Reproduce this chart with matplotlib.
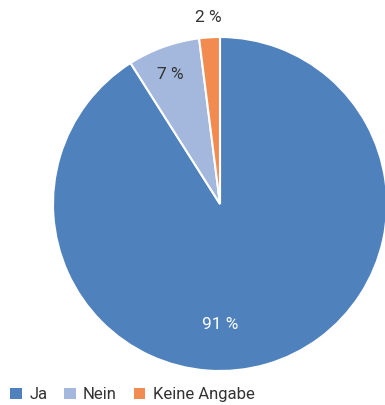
import matplotlib
matplotlib.use("Agg")
import matplotlib.pyplot as plt
import numpy as np
from matplotlib.patches import Patch

plt.rcParams['font.family'] = ['Roboto', 'DejaVu Sans']

categories = ["Ja", "Nein", "Keine Angabe"]
shares = [91, 7, 2]
colors = ["#4F81BD", "#A3B8DC", "#F28B50"]

# label placement: (angle in degrees, radius as fraction of pie radius)
label_pos = [(-90, 0.72), (111, 0.83), (93.7, 1.12)]
label_colors = ["white", "#333333", "#333333"]

fig = plt.figure(figsize=(3.85, 4.05), dpi=100)
cx, cy, r = 220, 204, 167
ax = fig.add_axes([(cx - r) / 385, (405 - cy - r) / 405, 2 * r / 385, 2 * r / 405])

wedges, _ = ax.pie(shares, colors=colors, startangle=90, counterclock=False,
                   radius=1, wedgeprops=dict(edgecolor="white", linewidth=1.5))
ax.set_xlim(-1, 1)
ax.set_ylim(-1, 1)
ax.set_aspect("equal")
ax.axis("off")
for w in wedges:
    w.set_clip_on(False)

for val, (ang, rad), c in zip(shares, label_pos, label_colors):
    t = np.deg2rad(ang)
    ax.text(rad * np.cos(t), rad * np.sin(t), f"{val} %", ha="center", va="center",
            fontsize=12.5, color=c)

handles = [Patch(facecolor=c, edgecolor="none") for c in colors]
fig.legend(handles, categories, loc="lower left", bbox_to_anchor=(0.0, -0.018),
           ncol=3, frameon=False, fontsize=12, handlelength=0.7, handleheight=0.7,
           handletextpad=0.45, columnspacing=1.0, borderaxespad=0.2,
           labelcolor="#333333")

fig.savefig("out.png", dpi=100)
